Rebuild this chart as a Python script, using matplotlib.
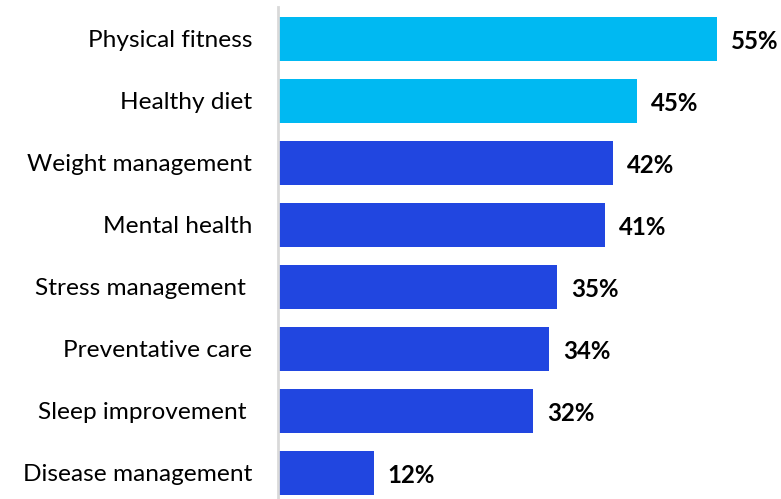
import matplotlib
matplotlib.use("Agg")
import matplotlib.pyplot as plt

categories = ["Physical fitness", "Healthy diet", "Weight management", "Mental health",
              "Stress management ", "Preventative care", "Sleep improvement ", "Disease management"]
values = [55, 45, 42, 41, 35, 34, 32, 12]
value_labels = ["55%", "45%", "42%", "41%", "35%", "34%", "32%", "12%"]
highlight = [True, True, False, False, False, False, False, False]

light_blue = "#00B9F2"
dark_blue = "#2146E0"

W, H = 781, 499
fig = plt.figure(figsize=(W / 100, H / 100), dpi=100)
ax = fig.add_axes([278 / W, 0, (W - 278) / W, (H - 7) / H])

colors = [light_blue if h else dark_blue for h in highlight]
y = list(range(len(categories)))
ax.barh(y, values, height=0.7, color=colors)

ax.set_xlim(0, (W - 278) / 7.98)
ax.set_ylim(7.42, -0.516)

for yi, v, lab in zip(y, values, value_labels):
    ax.text(v + 1.75, yi + 0.04, lab, va="center", ha="left", fontsize=17.3,
            fontweight="bold", family="Lato", color="#000000")

ax.set_yticks(y)
ax.set_yticklabels(categories, fontsize=17.6, family="Lato", color="#000000")
ax.tick_params(axis="y", length=0, pad=18.5)
ax.set_xticks([])

for s in ["top", "right", "bottom"]:
    ax.spines[s].set_visible(False)
ax.spines["left"].set_color("#D9D9D9")
ax.spines["left"].set_linewidth(2)

fig.savefig("out.png", dpi=100)
